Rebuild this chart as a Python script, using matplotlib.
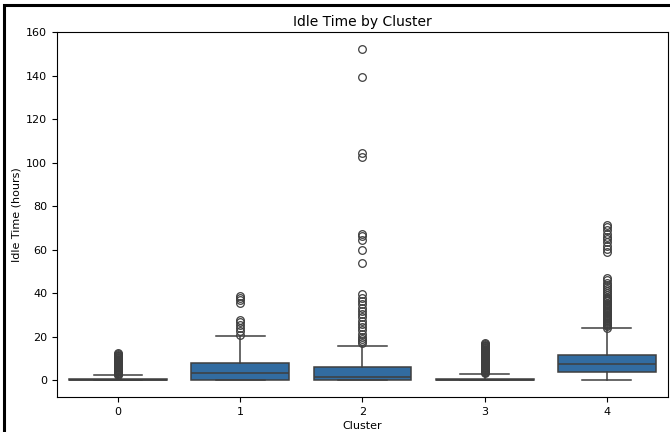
import matplotlib
matplotlib.use("Agg")
import matplotlib.pyplot as plt
from matplotlib.patches import Rectangle

# box statistics per cluster
clusters = ["0", "1", "2", "3", "4"]
q1 = [0.0, 0.0, 0.0, 0.0, 3.8]
med = [0.3, 3.6, 1.5, 0.3, 7.7]
q3 = [0.9, 8.0, 6.3, 0.9, 11.6]
whislo = [0.0, 0.0, 0.0, 0.0, 0.0]
whishi = [2.4, 20.2, 15.8, 3.1, 23.9]

fliers_0 = [2.7, 3.0, 3.3, 3.6, 3.9, 4.2, 4.5, 4.8, 5.1, 5.4, 5.7, 6.0, 6.3, 6.6,
            6.9, 7.2, 7.5, 7.8, 8.1, 8.4, 8.7, 9.0, 9.3, 9.6, 9.9, 10.2, 10.5,
            10.8, 11.1, 11.4, 11.7, 12.0, 12.4]
fliers_1 = [21.0, 22.5, 24.0, 25.5, 27.0, 28.0, 35.8, 37.0, 38.0, 38.8]
fliers_2 = [17.0, 18.0, 19.0, 20.0, 21.5, 23.0, 24.5, 26.0, 27.5, 29.0, 30.5,
            32.0, 33.5, 35.0, 36.5, 38.0, 39.5, 53.8, 59.8, 64.6, 66.2, 67.4,
            102.5, 104.5, 139.5, 152.5]
fliers_3 = [3.4, 3.7, 4.0, 4.3, 4.6, 4.9, 5.2, 5.5, 5.8, 6.1, 6.4, 6.7, 7.0, 7.3,
            7.6, 7.9, 8.2, 8.5, 8.8, 9.1, 9.4, 9.7, 10.0, 10.3, 10.6, 10.9,
            11.2, 11.5, 11.8, 12.1, 12.4, 12.7, 13.0, 13.3, 13.6, 13.9, 14.2,
            14.5, 14.8, 15.1, 15.4, 15.7, 16.0, 16.3, 16.7, 17.0]
fliers_4 = [24.3, 24.8, 25.3, 25.8, 26.3, 26.8, 27.3, 27.8, 28.3, 28.8, 29.3,
            29.8, 30.3, 30.8, 31.3, 31.8, 32.3, 32.8, 33.3, 33.8, 34.3, 34.8,
            35.3, 35.8, 36.3, 36.8, 37.3, 37.8, 38.5, 39.2, 40.0, 41.0, 42.0,
            43.0, 44.0, 45.0, 46.0, 47.0, 59.0, 60.5, 62.0, 63.5, 65.0, 66.0,
            67.5, 69.0, 70.5, 71.5]
fliers = [fliers_0, fliers_1, fliers_2, fliers_3, fliers_4]

stats = []
for i in range(len(clusters)):
    stats.append({"label": clusters[i], "q1": q1[i], "med": med[i], "q3": q3[i],
                  "whislo": whislo[i], "whishi": whishi[i], "fliers": fliers[i]})

box_color = "#326ca1"
line_color = "#3f3f3f"

fig = plt.figure(figsize=(6.7, 4.32), dpi=100)
ax = fig.add_axes([0.085, 0.081, 0.912, 0.845])

ax.bxp(stats, positions=range(len(clusters)), widths=0.8, patch_artist=True,
       boxprops=dict(facecolor=box_color, edgecolor=line_color, linewidth=1.1),
       medianprops=dict(color=line_color, linewidth=1.1),
       whiskerprops=dict(color=line_color, linewidth=1.1),
       capprops=dict(color=line_color, linewidth=1.1),
       flierprops=dict(marker="o", markerfacecolor="none", markeredgecolor=line_color,
                       markersize=5.5, markeredgewidth=0.9))

ax.set_xlim(-0.5, 4.5)
ax.set_ylim(-7.6, 160.1)
ax.set_yticks([0, 20, 40, 60, 80, 100, 120, 140, 160])
ax.tick_params(labelsize=8, length=3.5, width=0.8)
for s in ax.spines.values():
    s.set_linewidth(0.8)

ax.set_xlabel("Cluster", fontsize=8, labelpad=3)
ax.set_ylabel("Idle Time (hours)", fontsize=8, labelpad=3)
ax.set_title("Idle Time by Cluster", fontsize=10, pad=4)

# screenshot frame
fig.patches.append(Rectangle((0.006, -0.1), 1.2, 1.088, transform=fig.transFigure,
                             fill=False, edgecolor="black", linewidth=2.2))

fig.savefig("out.png", dpi=100)
